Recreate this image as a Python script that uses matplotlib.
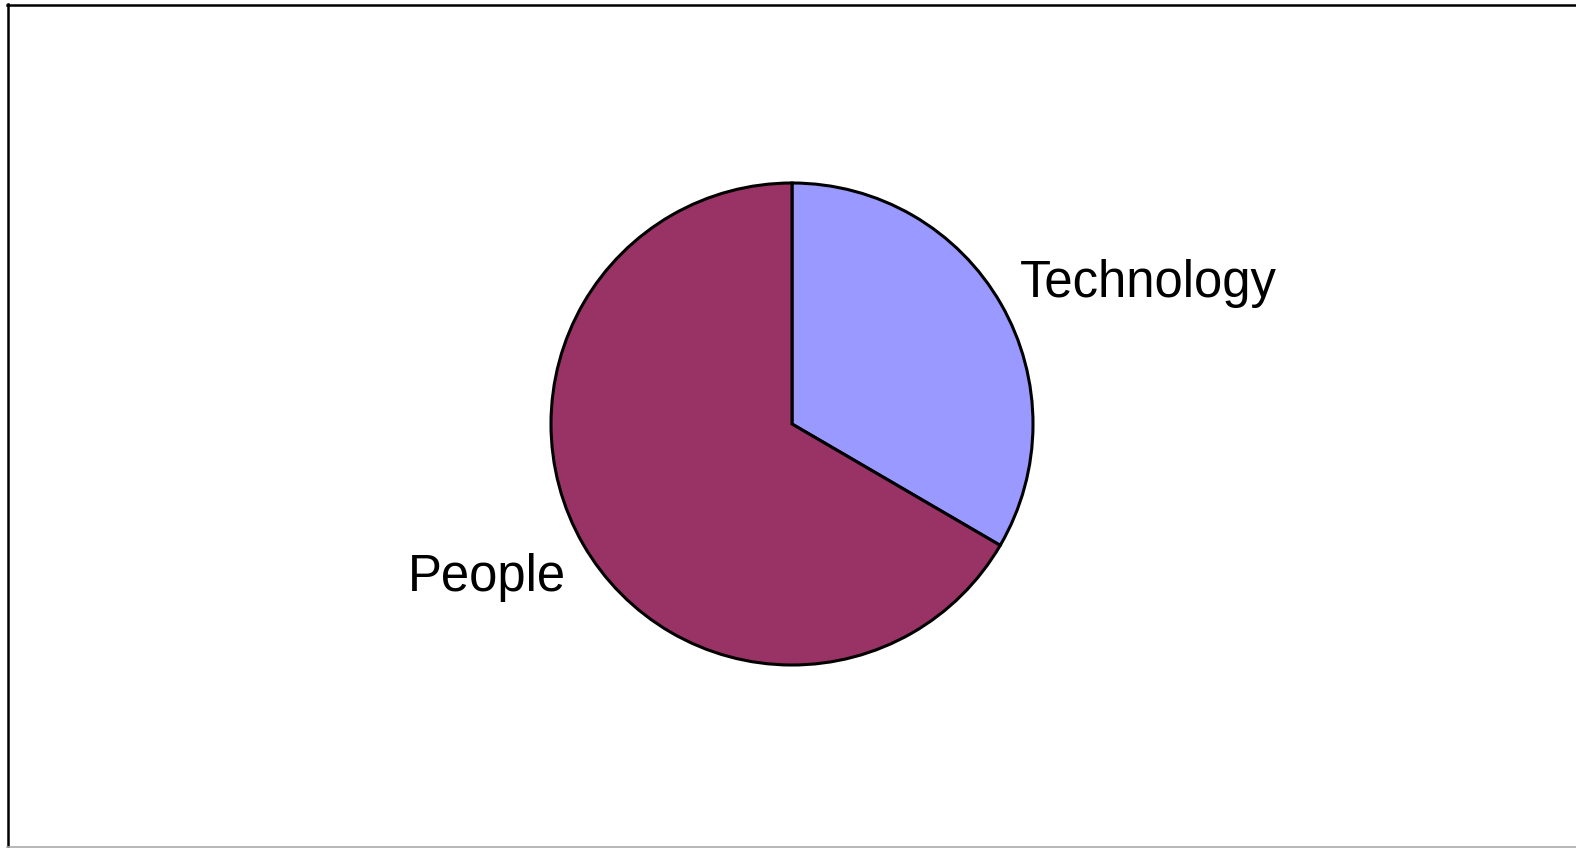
import matplotlib
matplotlib.use("Agg")
import matplotlib.pyplot as plt
from matplotlib.lines import Line2D

categories = ["Technology", "People"]
values = [33.4, 66.6]
colors = ["#9999FF", "#993366"]

W, H = 1576, 848
fig = plt.figure(figsize=(W / 100, H / 100), dpi=100)
fig.patch.set_facecolor("white")
ax = fig.add_axes([0, 0, 1, 1])
ax.set_xlim(0, W)
ax.set_ylim(0, H)
ax.set_aspect("equal")
ax.axis("off")

ax.pie(values, colors=colors, startangle=90, counterclock=False,
       center=(792, 424), radius=241,
       wedgeprops=dict(edgecolor="black", linewidth=2.2))
ax.set_xlim(0, W)
ax.set_ylim(0, H)

font = ["Liberation Sans", "DejaVu Sans"]
ax.text(1020, H - 297, categories[0], fontsize=36.6, family=font, ha="left", va="baseline")
ax.text(408, H - 591, categories[1], fontsize=36.6, family=font, ha="left", va="baseline")

# frame lines
fig.add_artist(Line2D([7.5 / W, 7.5 / W], [0, 1 - 4 / H], color="black", lw=1.8, transform=fig.transFigure))
fig.add_artist(Line2D([7 / W, 1], [1 - 4.5 / H, 1 - 4.5 / H], color="black", lw=1.8, transform=fig.transFigure))
fig.add_artist(Line2D([7 / W, 1], [0.8 / H, 0.8 / H], color="#aaaaaa", lw=1.2, transform=fig.transFigure))

fig.savefig("out.png", dpi=100, facecolor="white")
